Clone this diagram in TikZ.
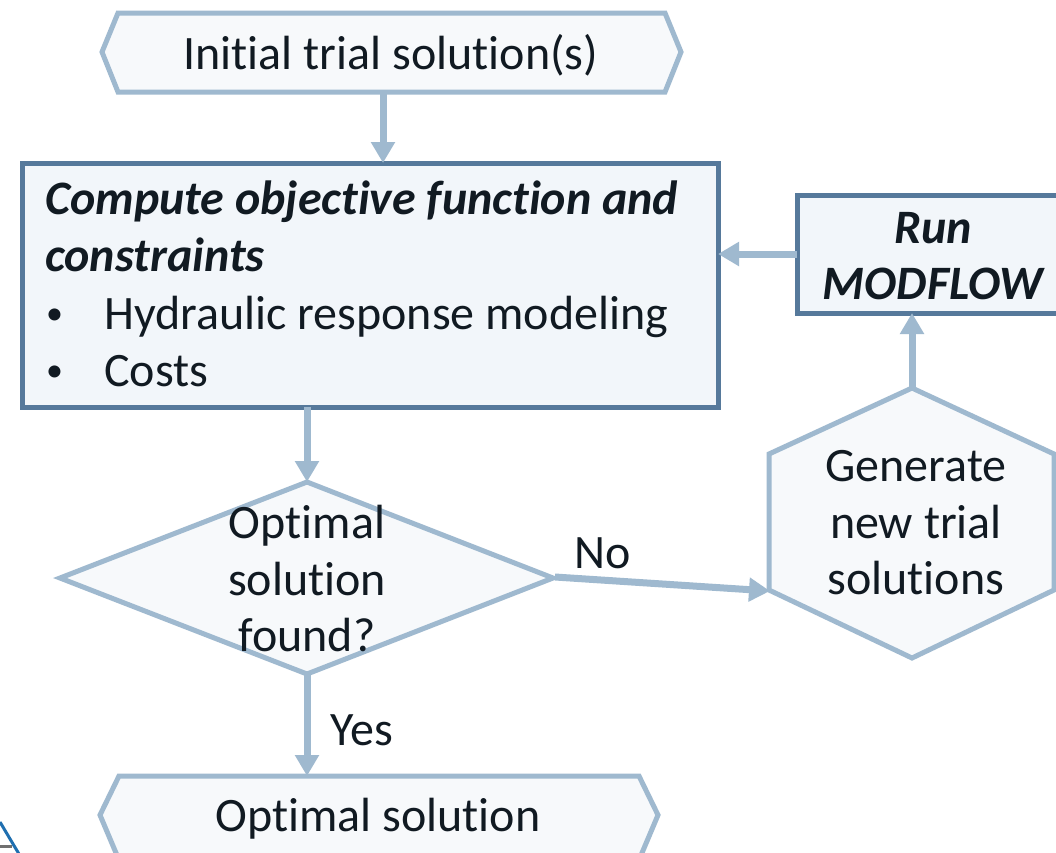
\documentclass[tikz,border=0pt]{standalone}
\usepackage{fontspec}
\setmainfont{Carlito}[Ligatures={NoCommon}]
\usetikzlibrary{arrows.meta}
\definecolor{lightedge}{HTML}{9FB9CF}
\definecolor{darkedge}{HTML}{56799B}
\definecolor{boxfill}{HTML}{F2F6FA}
\definecolor{hexfill}{HTML}{F7F9FB}
\definecolor{ink}{HTML}{111A22}
\definecolor{logoblue}{HTML}{1F6FB0}
\definecolor{logogray}{HTML}{707070}
\begin{document}
\begin{tikzpicture}[x=1pt,y=-1pt,
  lightshape/.style={draw=lightedge, fill=hexfill, line width=5pt, line join=miter},
  darkbox/.style={draw=darkedge, fill=boxfill, line width=5pt},
  flow/.style={draw=lightedge, line width=7pt, -{Triangle[length=21pt,width=23pt]}},
  txt/.style={font=\fontsize{48}{57}\selectfont, text=ink, inner sep=0pt, anchor=base},
  btxt/.style={txt, font=\fontsize{48}{57}\selectfont\bfseries\itshape},
  bullet/.style={txt, font=\fontsize{34}{57}\selectfont},
]
\useasboundingbox (0,0) rectangle (1056,852);
\fill[white] (0,0) rectangle (1056,852);

% logo fragment bottom-left
\draw[logoblue, line width=3pt] (0,822) -- (19,854);
\draw[logogray, line width=3pt] (0,846) -- (12,846);

% shapes
\draw[lightshape] (102,52) -- (118,13) -- (665,13) -- (681,52) -- (665,92) -- (118,92) -- cycle;
\draw[darkbox] (22,163) rectangle (718,407);
\draw[darkbox] (797,195) rectangle (1068,313);
\draw[lightshape] (912,388) -- (1054,454) -- (1054,590) -- (912,658) -- (769,590) -- (769,454) -- cycle;
\draw[lightshape] (60,578) -- (307,482) -- (553,578) -- (307,674) -- cycle;
\draw[lightshape] (100,815) -- (119,776) -- (639,776) -- (658,815) -- (639,860) -- (119,860) -- cycle;

% anchor coordinates
\coordinate (init-s) at (383,92);
\coordinate (comp-n) at (383,163);
\coordinate (comp-e) at (718,254);
\coordinate (comp-s) at (307,407);
\coordinate (run-w) at (797,254);
\coordinate (run-s) at (912,313);
\coordinate (gen-n) at (912,388);
\coordinate (gen-w) at (770,591);
\coordinate (dec-n) at (307,482);
\coordinate (dec-e) at (555,577);
\coordinate (dec-s) at (307,674);
\coordinate (opt-n) at (307,776);

% texts
\node[txt] (init) at (391,69) {Initial trial solution(s)};
\node[btxt, anchor=base west] (comp1) at (45,214) {Compute objective function and};
\node[btxt, anchor=base west] (comp2) at (45,271) {constraints};
\node[bullet, anchor=base west] (b1) at (46,324) {\textbullet};
\node[txt, anchor=base west] (comp3) at (104,329) {Hydraulic response modeling};
\node[bullet, anchor=base west] (b2) at (46,381) {\textbullet};
\node[txt, anchor=base west] (comp4) at (104,386) {Costs};
\node[btxt] (run1) at (933,243) {Run};
\node[btxt] (run2) at (933,299) {MODFLOW};
\node[txt] (gen1) at (916,481) {Generate};
\node[txt] (gen2) at (916,538) {new trial};
\node[txt] (gen3) at (916,594) {solutions};
\node[txt] (dec1) at (307,538) {Optimal};
\node[txt] (dec2) at (307,595) {solution};
\node[txt] (dec3) at (307,651) {found?};
\node[txt] (no) at (603,568) {No};
\node[txt] (yes) at (362,745) {Yes};
\node[txt] (opt) at (378,831) {Optimal solution};

% connectors
\draw[flow] (init-s) -- (comp-n);
\draw[flow] (run-w) -- (comp-e);
\draw[flow] (gen-n) -- (run-s);
\draw[flow] (comp-s) -- (dec-n);
\draw[flow] (dec-e) -- (gen-w);
\draw[flow] (dec-s) -- (opt-n);
\end{tikzpicture}
\end{document}
